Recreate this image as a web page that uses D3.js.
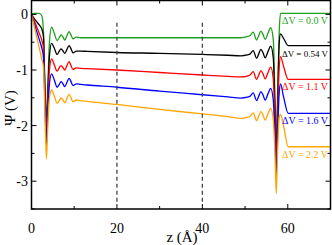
<!DOCTYPE html>
<meta charset="utf-8">
<script src="https://d3js.org/d3.v7.min.js"></script>
<body style="margin:0;background:#fff">
<svg width="332" height="245"></svg>
<style>
body{ font-family: 'Liberation Serif', 'DejaVu Serif', serif; }
text{ font-family: 'Liberation Serif', serif; }
</style>
<script>
// z positions (Å) shared by all curves
const Z = [0, 0.6, 1.2, 1.8, 2.4, 2.8, 3.15, 3.5, 3.85, 4.2,
  4.7, 5.3, 6.0, 6.5, 6.9, 7.3, 7.8, 8.3, 8.8, 9.2, 9.7, 10.5, 11.5, 13,
  20, 30, 40, 46, 49,
  50.5, 51.2, 51.9, 52.7, 53.2, 53.7, 54.2, 54.7, 55.4, 56.0, 56.6,
  57.0, 57.3, 57.6, 58.0, 58.3, 59, 60.1, 65, 70];

const psi00 = [0, 0.02, 0.02, 0.02, -0.02, -0.3, -1.3, -1.85, -1.2, -0.5,
  -0.23, -0.33, -0.47, -0.42, -0.37, -0.40, -0.46, -0.38, -0.31, -0.36, -0.44, -0.41, -0.42, -0.42,
  -0.42, -0.42, -0.42, -0.42, -0.42,
  -0.40, -0.38, -0.32, -0.46, -0.38, -0.30, -0.36, -0.45, -0.33, -0.24, -0.45,
  -1.5, -2.35, -1.5, -0.3, 0.02, 0.02, 0.02, 0.02, 0.02];

const psi054 = [0, -0.07, -0.13, -0.19, -0.26, -0.4, -1.4, -2.0, -1.35, -0.75,
  -0.52, -0.60, -0.72, -0.66, -0.62, -0.65, -0.70, -0.63, -0.56, -0.61, -0.69, -0.66, -0.66, -0.665,
  -0.685, -0.70, -0.72, -0.735, -0.745,
  -0.73, -0.71, -0.65, -0.79, -0.71, -0.63, -0.69, -0.78, -0.66, -0.57, -0.78,
  -1.7, -2.5, -1.7, -0.5, -0.35, -0.43, -0.56, -0.56, -0.56];

const psi11 = [0, -0.1, -0.22, -0.34, -0.46, -0.6, -1.4, -2.15, -1.5, -1.0,
  -0.80, -0.90, -1.02, -0.96, -0.92, -0.95, -1.00, -0.92, -0.85, -0.91, -0.99, -0.96, -0.97, -0.975,
  -1.0, -1.045, -1.09, -1.115, -1.125,
  -1.11, -1.09, -1.03, -1.17, -1.09, -1.01, -1.07, -1.16, -1.04, -0.95, -1.16,
  -1.9, -2.7, -1.9, -0.95, -0.76, -0.93, -1.17, -1.17, -1.17];

const psi16 = [0, -0.15, -0.3, -0.45, -0.6, -0.77, -1.6, -2.35, -1.7, -1.25,
  -1.07, -1.17, -1.31, -1.26, -1.21, -1.24, -1.30, -1.22, -1.15, -1.20, -1.28, -1.25, -1.26, -1.27,
  -1.31, -1.38, -1.445, -1.485, -1.505,
  -1.49, -1.47, -1.41, -1.55, -1.47, -1.39, -1.45, -1.54, -1.42, -1.33, -1.54,
  -2.2, -2.9, -2.2, -1.4, -1.25, -1.48, -1.78, -1.78, -1.78];

const psi22 = [0, -0.2, -0.4, -0.6, -0.8, -0.95, -1.8, -2.6, -1.95, -1.5,
  -1.36, -1.46, -1.60, -1.55, -1.50, -1.53, -1.59, -1.51, -1.44, -1.49, -1.57, -1.54, -1.55, -1.565,
  -1.62, -1.71, -1.79, -1.84, -1.87,
  -1.85, -1.83, -1.77, -1.91, -1.83, -1.75, -1.81, -1.90, -1.78, -1.69, -1.90,
  -2.5, -3.22, -2.5, -1.85, -1.8, -2.0, -2.38, -2.38, -2.38];

const series = [psi00, psi054, psi11, psi16, psi22];
const labels = ['ΔV = 0.0 V', 'ΔV = 0.54 V', 'ΔV = 1.1 V', 'ΔV = 1.6 V', 'ΔV = 2.2 V'];
const colors = ['#1f9f1f', '#000000', '#ff0000', '#0000ff', '#ffa500'];
const xTicks = [0, 20, 40, 60];
const yTicks = [0, -1, -2, -3];
const dashedZ = [20, 40];

const svg = d3.select('svg');
const x = d3.scaleLinear().domain([0, 70]).range([31.5, 330.5]);
const y = d3.scaleLinear().domain([-3.5, 0.25]).range([209, 0.5]);

// curves
const line = d3.line()
  .x((d, i) => x(Z[i]))
  .y(d => y(d))
  .curve(d3.curveMonotoneX);

const g = svg.append('g');
g.selectAll('path.curve').data(series).enter().append('path')
  .attr('class', 'curve')
  .attr('fill', 'none')
  .attr('stroke', (d, i) => colors[i])
  .attr('stroke-width', 1.3)
  .attr('d', line);

// dashed electrode boundaries
g.selectAll('line.dash').data(dashedZ).enter().append('line')
  .attr('x1', d => x(d)).attr('x2', d => x(d))
  .attr('y1', y(-0.15)).attr('y2', y(-3.4))
  .attr('stroke', '#444').attr('stroke-width', 1.3)
  .attr('stroke-dasharray', '4,3');

// bias labels; long ones get a smaller font so they stay inside the frame
g.selectAll('text.lab').data(labels).enter().append('text')
  .attr('x', 282)
  .attr('y', (d, i) => y(series[i][series[i].length - 1]) + 11)
  .attr('fill', (d, i) => colors[i])
  .attr('font-size', 10.5)
  .text(d => d)
  .each(function() {
    const w = this.getComputedTextLength();
    if (w > 46) d3.select(this).attr('font-size', 10.5 * 46 / w);
  });

// frame with inward ticks
const frame = svg.append('g');
frame.append('rect')
  .attr('x', x(0)).attr('y', y(0.25))
  .attr('width', x(70) - x(0)).attr('height', y(-3.5) - y(0.25))
  .attr('fill', 'none').attr('stroke', '#000').attr('stroke-width', 1.5);

const xMaj = d3.range(0, 71, 20), xMin = d3.range(10, 71, 20);
const yMaj = [0, -1, -2, -3], yMin = [-0.5, -1.5, -2.5, -3.5];
function xt(vals, len) {
  vals.forEach(v => {
    frame.append('line').attr('x1', x(v)).attr('x2', x(v))
      .attr('y1', y(-3.5)).attr('y2', y(-3.5) - len).attr('stroke', '#000');
    frame.append('line').attr('x1', x(v)).attr('x2', x(v))
      .attr('y1', y(0.25)).attr('y2', y(0.25) + len).attr('stroke', '#000');
  });
}
function yt(vals, len) {
  vals.forEach(v => {
    frame.append('line').attr('y1', y(v)).attr('y2', y(v))
      .attr('x1', x(0)).attr('x2', x(0) + len).attr('stroke', '#000');
    frame.append('line').attr('y1', y(v)).attr('y2', y(v))
      .attr('x1', x(70)).attr('x2', x(70) - len).attr('stroke', '#000');
  });
}
xt(xMaj, 5); xt(xMin, 3);
yt(yMaj, 5); yt(yMin, 3);

frame.selectAll('text.xt').data(xTicks).enter().append('text')
  .attr('x', d => x(d)).attr('y', 233)
  .attr('text-anchor', 'middle').attr('font-size', 14)
  .text(d => d);
frame.selectAll('text.yt').data(yTicks).enter().append('text')
  .attr('x', 28).attr('y', d => y(d) + 5)
  .attr('text-anchor', 'end').attr('font-size', 14)
  .text(d => d);

svg.append('text').attr('x', 182).attr('y', 242)
  .attr('text-anchor', 'middle').attr('font-size', 15)
  .text('z (Å)');
svg.append('text')
  .attr('transform', 'translate(15,108) rotate(-90)')
  .attr('text-anchor', 'middle').attr('font-size', 15)
  .text('Ψ (V)');
</script>
</body>
